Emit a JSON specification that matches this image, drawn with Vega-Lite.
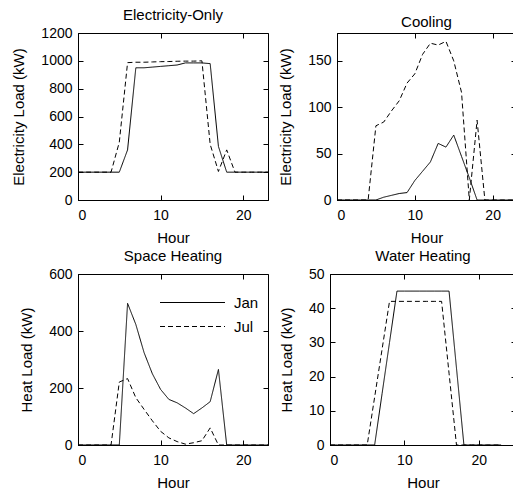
{
"$schema": "https://vega.github.io/schema/vega-lite/v6.json",
"padding": {"left": 11, "top": 7, "right": 0, "bottom": 0},
"background": "white",
"data": {"values": [
{"panel":"E","month":"Jan","hour":0,"value":200},{"panel":"E","month":"Jan","hour":1,"value":200},{"panel":"E","month":"Jan","hour":2,"value":200},{"panel":"E","month":"Jan","hour":3,"value":200},{"panel":"E","month":"Jan","hour":4,"value":200},{"panel":"E","month":"Jan","hour":5,"value":200},{"panel":"E","month":"Jan","hour":6,"value":360},{"panel":"E","month":"Jan","hour":7,"value":950},{"panel":"E","month":"Jan","hour":8,"value":950},{"panel":"E","month":"Jan","hour":9,"value":955},{"panel":"E","month":"Jan","hour":10,"value":960},{"panel":"E","month":"Jan","hour":11,"value":965},{"panel":"E","month":"Jan","hour":12,"value":970},{"panel":"E","month":"Jan","hour":13,"value":985},{"panel":"E","month":"Jan","hour":14,"value":985},{"panel":"E","month":"Jan","hour":15,"value":985},{"panel":"E","month":"Jan","hour":16,"value":980},{"panel":"E","month":"Jan","hour":17,"value":385},{"panel":"E","month":"Jan","hour":18,"value":200},{"panel":"E","month":"Jan","hour":19,"value":200},{"panel":"E","month":"Jan","hour":20,"value":200},{"panel":"E","month":"Jan","hour":21,"value":200},{"panel":"E","month":"Jan","hour":22,"value":200},{"panel":"E","month":"Jan","hour":23,"value":200},
{"panel":"E","month":"Jul","hour":0,"value":200},{"panel":"E","month":"Jul","hour":1,"value":200},{"panel":"E","month":"Jul","hour":2,"value":200},{"panel":"E","month":"Jul","hour":3,"value":200},{"panel":"E","month":"Jul","hour":4,"value":200},{"panel":"E","month":"Jul","hour":5,"value":415},{"panel":"E","month":"Jul","hour":6,"value":987},{"panel":"E","month":"Jul","hour":7,"value":990},{"panel":"E","month":"Jul","hour":8,"value":990},{"panel":"E","month":"Jul","hour":9,"value":992},{"panel":"E","month":"Jul","hour":10,"value":994},{"panel":"E","month":"Jul","hour":11,"value":995},{"panel":"E","month":"Jul","hour":12,"value":997},{"panel":"E","month":"Jul","hour":13,"value":998},{"panel":"E","month":"Jul","hour":14,"value":998},{"panel":"E","month":"Jul","hour":15,"value":1000},{"panel":"E","month":"Jul","hour":16,"value":400},{"panel":"E","month":"Jul","hour":17,"value":205},{"panel":"E","month":"Jul","hour":18,"value":360},{"panel":"E","month":"Jul","hour":19,"value":200},{"panel":"E","month":"Jul","hour":20,"value":200},{"panel":"E","month":"Jul","hour":21,"value":200},{"panel":"E","month":"Jul","hour":22,"value":200},{"panel":"E","month":"Jul","hour":23,"value":200},
{"panel":"C","month":"Jan","hour":0,"value":0},{"panel":"C","month":"Jan","hour":1,"value":0},{"panel":"C","month":"Jan","hour":2,"value":0},{"panel":"C","month":"Jan","hour":3,"value":0},{"panel":"C","month":"Jan","hour":4,"value":0},{"panel":"C","month":"Jan","hour":5,"value":0},{"panel":"C","month":"Jan","hour":6,"value":3},{"panel":"C","month":"Jan","hour":7,"value":5},{"panel":"C","month":"Jan","hour":8,"value":7},{"panel":"C","month":"Jan","hour":9,"value":8},{"panel":"C","month":"Jan","hour":10,"value":21},{"panel":"C","month":"Jan","hour":11,"value":31},{"panel":"C","month":"Jan","hour":12,"value":41},{"panel":"C","month":"Jan","hour":13,"value":61},{"panel":"C","month":"Jan","hour":14,"value":57},{"panel":"C","month":"Jan","hour":15,"value":70},{"panel":"C","month":"Jan","hour":16,"value":47},{"panel":"C","month":"Jan","hour":17,"value":24},{"panel":"C","month":"Jan","hour":18,"value":0},{"panel":"C","month":"Jan","hour":19,"value":0},{"panel":"C","month":"Jan","hour":20,"value":0},{"panel":"C","month":"Jan","hour":21,"value":0},{"panel":"C","month":"Jan","hour":22,"value":0},{"panel":"C","month":"Jan","hour":23,"value":0},
{"panel":"C","month":"Jul","hour":0,"value":0},{"panel":"C","month":"Jul","hour":1,"value":0},{"panel":"C","month":"Jul","hour":2,"value":0},{"panel":"C","month":"Jul","hour":3,"value":0},{"panel":"C","month":"Jul","hour":4,"value":0},{"panel":"C","month":"Jul","hour":5,"value":80},{"panel":"C","month":"Jul","hour":6,"value":84},{"panel":"C","month":"Jul","hour":7,"value":96},{"panel":"C","month":"Jul","hour":8,"value":107},{"panel":"C","month":"Jul","hour":9,"value":126},{"panel":"C","month":"Jul","hour":10,"value":136},{"panel":"C","month":"Jul","hour":11,"value":157},{"panel":"C","month":"Jul","hour":12,"value":169},{"panel":"C","month":"Jul","hour":13,"value":167},{"panel":"C","month":"Jul","hour":14,"value":171},{"panel":"C","month":"Jul","hour":15,"value":150},{"panel":"C","month":"Jul","hour":16,"value":116},{"panel":"C","month":"Jul","hour":17,"value":0},{"panel":"C","month":"Jul","hour":18,"value":86},{"panel":"C","month":"Jul","hour":19,"value":0},{"panel":"C","month":"Jul","hour":20,"value":0},{"panel":"C","month":"Jul","hour":21,"value":0},{"panel":"C","month":"Jul","hour":22,"value":0},{"panel":"C","month":"Jul","hour":23,"value":0},
{"panel":"S","month":"Jan","hour":0,"value":0},{"panel":"S","month":"Jan","hour":1,"value":0},{"panel":"S","month":"Jan","hour":2,"value":0},{"panel":"S","month":"Jan","hour":3,"value":0},{"panel":"S","month":"Jan","hour":4,"value":0},{"panel":"S","month":"Jan","hour":5,"value":0},{"panel":"S","month":"Jan","hour":6,"value":497},{"panel":"S","month":"Jan","hour":7,"value":423},{"panel":"S","month":"Jan","hour":8,"value":324},{"panel":"S","month":"Jan","hour":9,"value":250},{"panel":"S","month":"Jan","hour":10,"value":195},{"panel":"S","month":"Jan","hour":11,"value":160},{"panel":"S","month":"Jan","hour":12,"value":148},{"panel":"S","month":"Jan","hour":13,"value":130},{"panel":"S","month":"Jan","hour":14,"value":110},{"panel":"S","month":"Jan","hour":15,"value":130},{"panel":"S","month":"Jan","hour":16,"value":152},{"panel":"S","month":"Jan","hour":17,"value":265},{"panel":"S","month":"Jan","hour":18,"value":0},{"panel":"S","month":"Jan","hour":19,"value":0},{"panel":"S","month":"Jan","hour":20,"value":0},{"panel":"S","month":"Jan","hour":21,"value":0},{"panel":"S","month":"Jan","hour":22,"value":0},{"panel":"S","month":"Jan","hour":23,"value":0},
{"panel":"S","month":"Jul","hour":0,"value":0},{"panel":"S","month":"Jul","hour":1,"value":0},{"panel":"S","month":"Jul","hour":2,"value":0},{"panel":"S","month":"Jul","hour":3,"value":0},{"panel":"S","month":"Jul","hour":4,"value":0},{"panel":"S","month":"Jul","hour":5,"value":221},{"panel":"S","month":"Jul","hour":6,"value":233},{"panel":"S","month":"Jul","hour":7,"value":166},{"panel":"S","month":"Jul","hour":8,"value":125},{"panel":"S","month":"Jul","hour":9,"value":85},{"panel":"S","month":"Jul","hour":10,"value":48},{"panel":"S","month":"Jul","hour":11,"value":25},{"panel":"S","month":"Jul","hour":12,"value":12},{"panel":"S","month":"Jul","hour":13,"value":3},{"panel":"S","month":"Jul","hour":14,"value":8},{"panel":"S","month":"Jul","hour":15,"value":15},{"panel":"S","month":"Jul","hour":16,"value":60},{"panel":"S","month":"Jul","hour":17,"value":0},{"panel":"S","month":"Jul","hour":18,"value":0},{"panel":"S","month":"Jul","hour":19,"value":0},{"panel":"S","month":"Jul","hour":20,"value":0},{"panel":"S","month":"Jul","hour":21,"value":0},{"panel":"S","month":"Jul","hour":22,"value":0},{"panel":"S","month":"Jul","hour":23,"value":0},
{"panel":"W","month":"Jan","hour":0,"value":0},{"panel":"W","month":"Jan","hour":1,"value":0},{"panel":"W","month":"Jan","hour":2,"value":0},{"panel":"W","month":"Jan","hour":3,"value":0},{"panel":"W","month":"Jan","hour":4,"value":0},{"panel":"W","month":"Jan","hour":5,"value":0},{"panel":"W","month":"Jan","hour":6,"value":0},{"panel":"W","month":"Jan","hour":7,"value":15},{"panel":"W","month":"Jan","hour":8,"value":30},{"panel":"W","month":"Jan","hour":9,"value":45},{"panel":"W","month":"Jan","hour":10,"value":45},{"panel":"W","month":"Jan","hour":11,"value":45},{"panel":"W","month":"Jan","hour":12,"value":45},{"panel":"W","month":"Jan","hour":13,"value":45},{"panel":"W","month":"Jan","hour":14,"value":45},{"panel":"W","month":"Jan","hour":15,"value":45},{"panel":"W","month":"Jan","hour":16,"value":45},{"panel":"W","month":"Jan","hour":17,"value":22.5},{"panel":"W","month":"Jan","hour":18,"value":0},{"panel":"W","month":"Jan","hour":19,"value":0},{"panel":"W","month":"Jan","hour":20,"value":0},{"panel":"W","month":"Jan","hour":21,"value":0},{"panel":"W","month":"Jan","hour":22,"value":0},{"panel":"W","month":"Jan","hour":23,"value":0},
{"panel":"W","month":"Jul","hour":0,"value":0},{"panel":"W","month":"Jul","hour":1,"value":0},{"panel":"W","month":"Jul","hour":2,"value":0},{"panel":"W","month":"Jul","hour":3,"value":0},{"panel":"W","month":"Jul","hour":4,"value":0},{"panel":"W","month":"Jul","hour":5,"value":0},{"panel":"W","month":"Jul","hour":6,"value":14},{"panel":"W","month":"Jul","hour":7,"value":28},{"panel":"W","month":"Jul","hour":8,"value":42},{"panel":"W","month":"Jul","hour":9,"value":42},{"panel":"W","month":"Jul","hour":10,"value":42},{"panel":"W","month":"Jul","hour":11,"value":42},{"panel":"W","month":"Jul","hour":12,"value":42},{"panel":"W","month":"Jul","hour":13,"value":42},{"panel":"W","month":"Jul","hour":14,"value":42},{"panel":"W","month":"Jul","hour":15,"value":42},{"panel":"W","month":"Jul","hour":16,"value":21},{"panel":"W","month":"Jul","hour":17,"value":0},{"panel":"W","month":"Jul","hour":18,"value":0},{"panel":"W","month":"Jul","hour":19,"value":0},{"panel":"W","month":"Jul","hour":20,"value":0},{"panel":"W","month":"Jul","hour":21,"value":0},{"panel":"W","month":"Jul","hour":22,"value":0},{"panel":"W","month":"Jul","hour":23,"value":0}
]},
"spacing": 2,
"resolve": {"scale": {"strokeDash": "independent"}, "legend": {"strokeDash": "independent"}},
"vconcat": [
{
"spacing": 7,
"resolve": {"scale": {"strokeDash": "independent"}, "legend": {"strokeDash": "independent"}},
"hconcat": [
{
"width": 190, "height": 167,
"title": "Electricity-Only",
"transform": [{"filter": "datum.panel == 'E'"}],
"layer": [
{"mark": {"type": "line", "color": "black", "strokeWidth": 1},
"encoding": {
"x": {"field": "hour", "type": "quantitative", "scale": {"domain": [0, 23], "nice": false}, "axis": {"values": [0, 10, 20], "title": "Hour"}},
"y": {"field": "value", "type": "quantitative", "scale": {"domain": [0, 1200], "nice": false}, "axis": {"values": [0, 200, 400, 600, 800, 1000, 1200], "format": "d", "title": "Electricity Load (kW)"}},
"strokeDash": {"field": "month", "type": "nominal", "scale": {"domain": ["Jan", "Jul"], "range": [[1, 0], [5, 3]]}, "legend": null}
}},
{"mark": {"type": "line", "opacity": 0},
"encoding": {
"x": {"field": "hour", "type": "quantitative", "axis": {"orient": "top", "values": [0, 10, 20], "labels": false, "title": null, "domain": false}},
"y": {"field": "value", "type": "quantitative", "axis": {"orient": "right", "values": [0, 200, 400, 600, 800, 1000, 1200], "labels": false, "title": null, "domain": false}},
"detail": {"field": "month"}
}}
],
"resolve": {"axis": {"x": "independent", "y": "independent"}}
},
{
"width": 179, "height": 167,
"title": "Cooling",
"transform": [{"filter": "datum.panel == 'C'"}],
"layer": [
{"mark": {"type": "line", "color": "black", "strokeWidth": 1},
"encoding": {
"x": {"field": "hour", "type": "quantitative", "scale": {"domain": [0, 23], "nice": false}, "axis": {"values": [0, 10, 20], "title": "Hour"}},
"y": {"field": "value", "type": "quantitative", "scale": {"domain": [0, 180], "nice": false}, "axis": {"values": [0, 50, 100, 150], "title": "Electricity Load (kW)"}},
"strokeDash": {"field": "month", "type": "nominal", "scale": {"domain": ["Jan", "Jul"], "range": [[1, 0], [5, 3]]}, "legend": null}
}},
{"mark": {"type": "line", "opacity": 0},
"encoding": {
"x": {"field": "hour", "type": "quantitative", "axis": {"orient": "top", "values": [0, 10, 20], "labels": false, "title": null, "domain": false}},
"y": {"field": "value", "type": "quantitative", "axis": {"orient": "right", "values": [0, 50, 100, 150], "labels": false, "title": null, "domain": false}},
"detail": {"field": "month"}
}}
],
"resolve": {"axis": {"x": "independent", "y": "independent"}}
}
]
},
{
"spacing": 7,
"resolve": {"scale": {"strokeDash": "independent"}, "legend": {"strokeDash": "independent"}},
"hconcat": [
{
"width": 190, "height": 171,
"title": "Space Heating",
"transform": [{"filter": "datum.panel == 'S'"}],
"layer": [
{"mark": {"type": "line", "color": "black", "strokeWidth": 1},
"encoding": {
"x": {"field": "hour", "type": "quantitative", "scale": {"domain": [0, 23], "nice": false}, "axis": {"values": [0, 10, 20], "title": "Hour"}},
"y": {"field": "value", "type": "quantitative", "scale": {"domain": [0, 600], "nice": false}, "axis": {"values": [0, 200, 400, 600], "title": "Heat Load (kW)"}},
"strokeDash": {"field": "month", "type": "nominal", "scale": {"domain": ["Jan", "Jul"], "range": [[1, 0], [5, 3]]},
"legend": {"orient": "none", "legendX": 103, "legendY": 17, "title": null, "symbolType": "M-3,0H3", "symbolSize": 469, "symbolStrokeWidth": 1, "symbolStrokeColor": "black", "symbolFillColor": "transparent", "labelFontSize": 15, "labelColor": "black", "labelOffset": 30, "rowPadding": 4}}
}},
{"mark": {"type": "line", "opacity": 0},
"encoding": {
"x": {"field": "hour", "type": "quantitative", "axis": {"orient": "top", "values": [0, 10, 20], "labels": false, "title": null, "domain": false}},
"y": {"field": "value", "type": "quantitative", "axis": {"orient": "right", "values": [0, 200, 400, 600], "labels": false, "title": null, "domain": false}},
"detail": {"field": "month"}
}}
],
"resolve": {"axis": {"x": "independent", "y": "independent"}}
},
{
"width": 186, "height": 171,
"title": "Water Heating",
"transform": [{"filter": "datum.panel == 'W'"}],
"layer": [
{"mark": {"type": "line", "color": "black", "strokeWidth": 1},
"encoding": {
"x": {"field": "hour", "type": "quantitative", "scale": {"domain": [0, 25], "nice": false}, "axis": {"values": [0, 10, 20], "title": "Hour"}},
"y": {"field": "value", "type": "quantitative", "scale": {"domain": [0, 50], "nice": false}, "axis": {"values": [0, 10, 20, 30, 40, 50], "title": "Heat Load (kW)"}},
"strokeDash": {"field": "month", "type": "nominal", "scale": {"domain": ["Jan", "Jul"], "range": [[1, 0], [5, 3]]}, "legend": null}
}},
{"mark": {"type": "line", "opacity": 0},
"encoding": {
"x": {"field": "hour", "type": "quantitative", "axis": {"orient": "top", "values": [0, 10, 20], "labels": false, "title": null, "domain": false}},
"y": {"field": "value", "type": "quantitative", "axis": {"orient": "right", "values": [0, 10, 20, 30, 40, 50], "labels": false, "title": null, "domain": false}},
"detail": {"field": "month"}
}}
],
"resolve": {"axis": {"x": "independent", "y": "independent"}}
}
]
}
],
"config": {
"font": "Liberation Sans",
"view": {"stroke": "black", "strokeWidth": 1},
"axis": {"grid": false, "domainColor": "black", "tickColor": "black", "labelColor": "black", "titleColor": "black", "labelFontSize": 14, "titleFontSize": 15, "titleFontWeight": "normal", "tickSize": -5, "labelPadding": 11},
"axisX": {"titlePadding": 8, "labelPadding": 13},
"axisY": {"titlePadding": 14},
"title": {"fontSize": 15, "fontWeight": "normal", "color": "black", "offset": 3}
}
}
